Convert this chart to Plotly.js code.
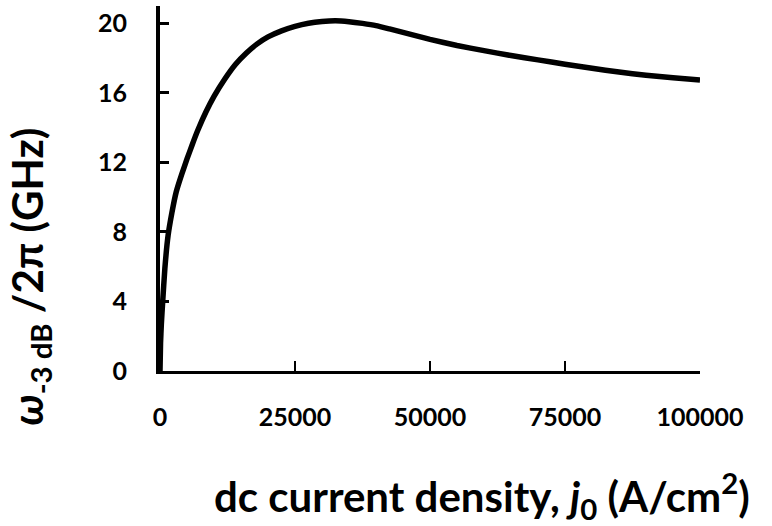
<!DOCTYPE html>
<html>
<head>
<meta charset="utf-8">
<script src="https://cdn.plot.ly/plotly-3.0.1.min.js"></script>
<style>
  html, body { margin: 0; padding: 0; background: #fff; }
  #chart { width: 772px; height: 526px; }
</style>
</head>
<body>
<div id="chart"></div>
<script>
// dc current density j0 (A/cm^2)
const currentDensity = [0, 100, 250, 500, 900, 1500, 2200, 3000, 4000, 5000, 6000, 7000,
  8500, 10000, 12000, 14000, 16000, 18000, 20000, 22500, 25000, 27500, 30000, 32500,
  35000, 37500, 40000, 42500, 45000, 47500, 50000, 55000, 60000, 65000, 70000, 75000,
  80000, 85000, 90000, 95000, 100000];
// -3 dB modulation bandwidth (GHz)
const bandwidth = [0, 1.6, 2.7, 4.0, 5.9, 7.8, 9.1, 10.3, 11.3, 12.2, 13.05, 13.85,
  14.9, 15.8, 16.8, 17.65, 18.3, 18.82, 19.22, 19.57, 19.83, 20.01, 20.11, 20.15,
  20.1, 20.0, 19.87, 19.68, 19.48, 19.28, 19.08, 18.73, 18.43, 18.15, 17.9, 17.65,
  17.42, 17.2, 17.02, 16.87, 16.74];

const xTicks = [0, 25000, 50000, 75000, 100000];
const yTicks = [0, 4, 8, 12, 16, 20];

const FONT = 'Lato, "Open Sans", sans-serif';

const trace = {
  x: currentDensity,
  y: bandwidth,
  type: 'scatter',
  mode: 'lines',
  line: { color: '#000', width: 5.5, shape: 'spline', smoothing: 0.4 },
  hoverinfo: 'skip'
};

const tickFont = { family: FONT, size: 25, color: '#000', weight: 'bold' };

const layout = {
  width: 772,
  height: 526,
  margin: { l: 160, r: 72, t: 6, b: 155 },
  paper_bgcolor: '#fff',
  plot_bgcolor: '#fff',
  showlegend: false,
  font: { family: FONT, color: '#000' },
  xaxis: {
    range: [0, 100000],
    tickvals: xTicks,
    ticktext: xTicks.map(String),
    ticks: 'inside',
    ticklen: 10,
    tickwidth: 2.5,
    tickcolor: '#000',
    showline: true,
    linewidth: 3,
    linecolor: '#000',
    showgrid: false,
    zeroline: false,
    ticklabelstandoff: 22,
    tickfont: tickFont
  },
  yaxis: {
    range: [0, 21],
    tickvals: yTicks,
    ticktext: yTicks.map(String),
    ticks: 'inside',
    ticklen: 9,
    tickwidth: 3,
    tickcolor: '#000',
    showline: true,
    linewidth: 4,
    linecolor: '#000',
    showgrid: false,
    zeroline: false,
    ticklabelstandoff: 24,
    tickfont: tickFont
  },
  annotations: [
    {
      xref: 'paper', yref: 'paper',
      x: 0.596, y: -0.342,
      xanchor: 'center', yanchor: 'middle',
      showarrow: false,
      text: '<b>dc current density, <i>j</i><sub>0</sub> (A/cm<sup>2</sup>)</b>',
      font: { family: FONT, size: 42, color: '#000' }
    },
    {
      xref: 'paper', yref: 'paper',
      x: -0.24, y: 0.26,
      xanchor: 'center', yanchor: 'middle',
      textangle: -90,
      showarrow: false,
      text: '<b><i>ω</i><sub>-3 dB</sub> /2π (GHz)</b>',
      font: { family: FONT, size: 42, color: '#000' }
    }
  ]
};

Plotly.newPlot('chart', [trace], layout, { staticPlot: true, displayModeBar: false });
</script>
</body>
</html>
